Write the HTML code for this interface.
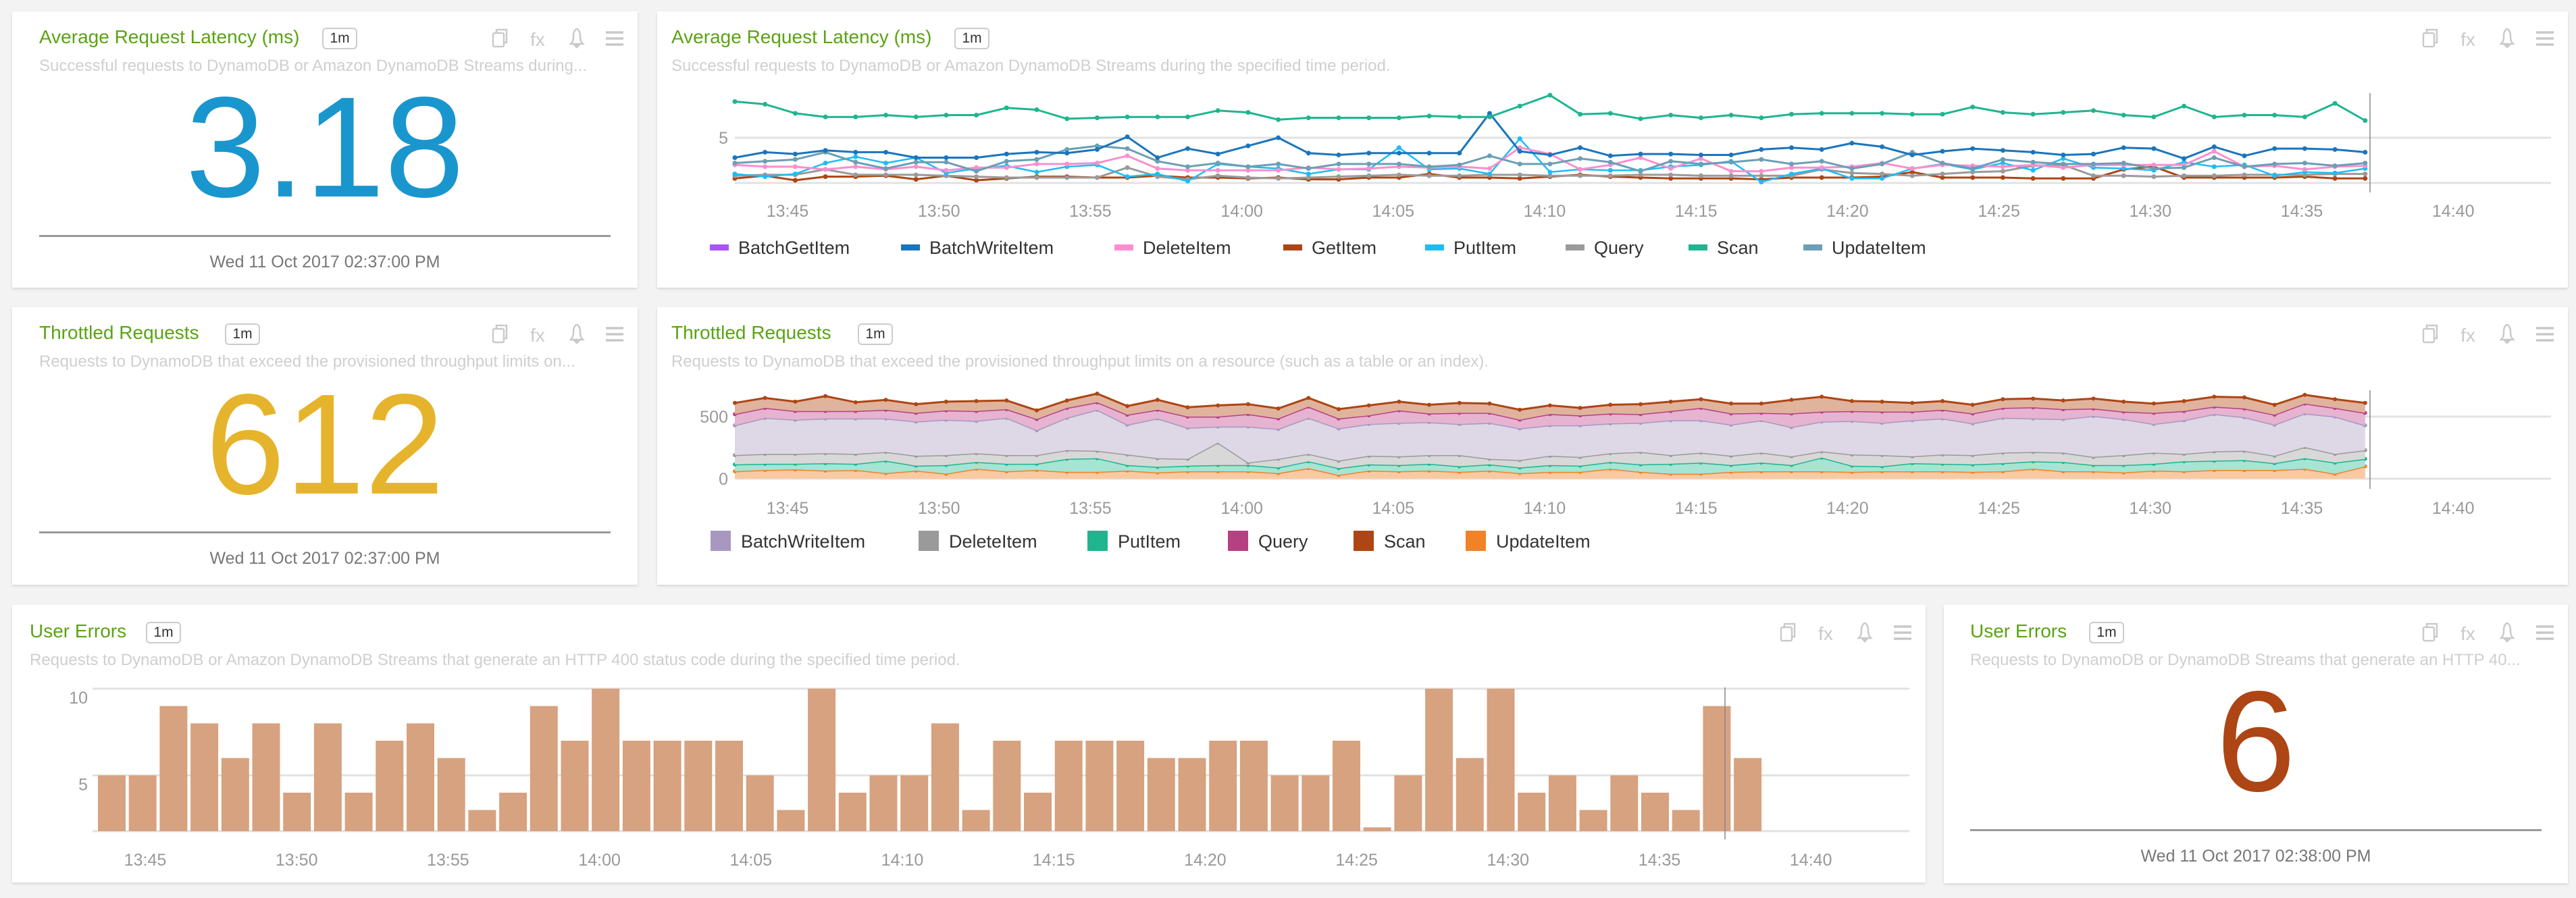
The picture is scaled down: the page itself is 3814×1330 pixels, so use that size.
<!DOCTYPE html>
<html><head><meta charset="utf-8">
<style>
body{margin:0;width:3814px;height:1330px;background:#f3f3f3;position:relative;overflow:hidden;font-family:"Liberation Sans",sans-serif;}
.panel{position:absolute;background:#fff;box-shadow:0 2px 4px rgba(0,0,0,0.12);}
.title{position:absolute;color:#5aa312;font-size:28px;white-space:nowrap;}
.badge{position:absolute;border:2px solid #ccc;border-radius:6px;font-size:21px;color:#333;width:48px;height:28px;line-height:28px;text-align:center;}
.sub{position:absolute;color:#cfcfcf;font-size:24px;white-space:nowrap;}
.ic{position:absolute;color:#c8c8c8;}
.big{position:absolute;font-size:212px;text-align:center;line-height:1;}
.hr{position:absolute;height:3px;background:#999;}
.date{position:absolute;font-size:25px;color:#777;text-align:center;}
svg text{font-family:"Liberation Sans",sans-serif;}
</style></head><body>

<div class="panel" style="left:18px;top:17px;width:926px;height:409px;"></div>
<div class="panel" style="left:973px;top:17px;width:2829px;height:409px;"></div>
<div class="panel" style="left:18px;top:455px;width:926px;height:411px;"></div>
<div class="panel" style="left:973px;top:455px;width:2829px;height:411px;"></div>
<div class="panel" style="left:18px;top:896px;width:2833px;height:411px;"></div>
<div class="panel" style="left:2878px;top:896px;width:924px;height:412px;"></div>

<div class="title" style="left:58px;top:39px;">Average Request Latency (ms)</div>
<div class="badge" style="left:477px;top:41px;">1m</div>
<div class="sub" style="left:58px;top:84px;">Successful requests to DynamoDB or Amazon DynamoDB Streams during...</div>
<div class="big" style="left:18px;width:926px;top:112px;color:#1a96ce;">3.18</div>
<div class="hr" style="left:58px;top:348px;width:846px;"></div>
<div class="date" style="left:18px;width:926px;top:374px;">Wed 11 Oct 2017 02:37:00 PM</div>

<div class="title" style="left:994px;top:39px;">Average Request Latency (ms)</div>
<div class="badge" style="left:1413px;top:41px;">1m</div>
<div class="sub" style="left:994px;top:84px;">Successful requests to DynamoDB or Amazon DynamoDB Streams during the specified time period.</div>

<div class="title" style="left:58px;top:477px;">Throttled Requests</div>
<div class="badge" style="left:333px;top:479px;">1m</div>
<div class="sub" style="left:58px;top:522px;">Requests to DynamoDB that exceed the provisioned throughput limits on...</div>
<div class="big" style="left:18px;width:926px;top:552px;color:#e6b42c;">612</div>
<div class="hr" style="left:58px;top:787px;width:846px;"></div>
<div class="date" style="left:18px;width:926px;top:813px;">Wed 11 Oct 2017 02:37:00 PM</div>

<div class="title" style="left:994px;top:477px;">Throttled Requests</div>
<div class="badge" style="left:1270px;top:479px;">1m</div>
<div class="sub" style="left:994px;top:522px;">Requests to DynamoDB that exceed the provisioned throughput limits on a resource (such as a table or an index).</div>

<div class="title" style="left:44px;top:919px;">User Errors</div>
<div class="badge" style="left:216px;top:921px;">1m</div>
<div class="sub" style="left:44px;top:964px;">Requests to DynamoDB or Amazon DynamoDB Streams that generate an HTTP 400 status code during the specified time period.</div>

<div class="title" style="left:2917px;top:919px;">User Errors</div>
<div class="badge" style="left:3093px;top:921px;">1m</div>
<div class="sub" style="left:2917px;top:964px;">Requests to DynamoDB or DynamoDB Streams that generate an HTTP 40...</div>
<div class="big" style="left:2878px;width:924px;top:992px;color:#ad4514;">6</div>
<div class="hr" style="left:2917px;top:1228px;width:846px;"></div>
<div class="date" style="left:2878px;width:924px;top:1254px;">Wed 11 Oct 2017 02:38:00 PM</div>

<svg id="chart" width="3814" height="1330" style="position:absolute;left:0;top:0;"></svg>

<script>
const timeTicks = ["13:45","13:50","13:55","14:00","14:05","14:10","14:15","14:20","14:25","14:30","14:35","14:40"];
const latencyNames = ["BatchGetItem","BatchWriteItem","DeleteItem","GetItem","PutItem","Query","Scan","UpdateItem"];
const latBatchGet = [];
const latBatchWrite = [2.8,3.4,3.2,3.6,3.4,3.4,2.8,2.8,2.8,3.2,3.4,3.3,3.7,5.1,2.8,3.8,3.2,4.1,5.0,3.3,3.1,3.3,3.3,3.3,3.3,7.7,3.5,3.1,3.9,3.0,3.2,3.2,3.1,3.1,3.7,3.9,3.7,4.4,4.0,3.1,3.5,3.8,3.6,3.4,3.1,3.2,3.9,3.8,2.7,4.0,3.0,3.8,3.8,3.7,3.4];
const latDelete = [2.0,1.8,1.8,1.5,1.8,1.5,1.8,1.4,1.7,1.7,2.1,2.1,2.2,3.0,1.6,1.4,1.4,1.4,1.4,1.7,1.5,1.6,1.8,1.7,1.8,1.6,3.9,3.2,1.5,2.0,2.8,1.6,2.7,1.3,1.3,1.7,1.7,1.8,2.2,1.6,2.0,1.9,1.8,2.0,1.7,2.0,2.0,2.0,2.0,3.5,1.8,1.9,1.5,1.8,1.9];
const latGet = [0.5,0.8,0.3,0.7,0.7,0.8,0.4,0.8,0.3,0.5,0.7,0.7,0.6,0.6,0.8,0.6,0.6,0.5,0.6,0.4,0.4,0.6,0.6,1.0,0.6,0.6,0.5,0.7,0.9,0.7,0.6,0.5,0.5,0.5,0.4,0.6,0.6,0.6,0.7,1.2,0.6,0.6,0.6,0.5,0.5,0.5,1.5,1.8,0.6,0.6,0.6,0.6,0.7,0.5,0.5];
const latPut = [1.0,0.7,1.0,2.2,2.9,2.2,2.8,1.1,1.6,1.9,1.2,1.8,2.0,0.7,1.0,0.2,2.1,1.8,1.6,1.0,1.5,1.5,3.9,1.5,1.6,1.0,4.9,1.2,1.5,1.4,1.4,1.8,2.0,2.4,0.1,1.0,1.6,0.5,0.5,1.6,2.1,1.5,2.2,1.4,2.7,1.7,1.6,1.4,2.3,1.8,2.0,0.8,1.2,1.1,1.6];
const latQuery = [0.8,0.9,0.9,1.5,0.9,0.9,0.9,0.8,0.7,0.6,0.6,0.6,0.6,1.7,0.7,0.4,0.8,0.6,0.5,0.6,0.7,0.8,0.9,0.8,0.8,0.9,0.9,0.8,0.8,0.8,0.9,0.9,0.8,0.8,0.8,0.8,1.5,1.1,1.0,0.8,1.0,1.2,1.3,1.9,2.0,0.8,0.8,0.7,0.8,0.8,0.9,0.9,0.9,1.0,1.0];
const latScan = [9.0,8.7,7.7,7.3,7.3,7.5,7.3,7.5,7.5,8.3,8.1,7.1,7.2,7.3,7.3,7.3,8.0,7.8,7.0,7.2,7.2,7.2,7.2,7.4,7.3,7.3,8.5,9.7,7.6,7.7,7.1,7.5,7.2,7.5,7.2,7.6,7.7,7.7,7.7,7.6,7.6,8.4,7.8,7.6,7.8,8.0,7.5,7.3,8.5,7.3,7.5,7.5,7.3,8.8,6.9];
const latUpdate = [2.2,2.4,2.6,3.4,2.3,1.6,2.3,2.3,1.3,2.4,2.6,3.7,4.1,3.8,2.4,1.8,2.2,1.8,2.1,1.6,2.1,2.1,2.1,1.8,2.0,3.0,2.1,2.1,2.7,2.3,1.3,2.4,2.1,2.3,2.6,2.1,2.4,1.6,2.1,3.4,2.2,1.6,2.6,2.3,2.1,2.1,2.2,1.6,1.7,2.8,1.8,2.1,2.2,1.9,2.2];
const latencyTicks = [5];

const thrNames = ["BatchWriteItem","DeleteItem","PutItem","Query","Scan","UpdateItem"];
const thrUpdate = [60,70,75,65,70,45,65,40,80,60,70,55,55,65,50,60,60,60,45,85,30,65,60,65,55,65,45,55,55,80,55,40,40,55,60,60,60,55,60,60,60,55,60,80,60,60,50,65,60,70,70,70,80,40,100];
const thrPut = [55,50,45,60,50,100,40,70,55,60,50,105,110,45,45,45,50,50,45,55,55,50,50,55,45,50,45,55,50,55,60,80,90,55,70,50,110,50,40,65,60,60,65,60,75,50,60,55,80,75,80,55,85,90,60];
const thrDelete = [75,80,80,80,80,70,80,80,70,70,70,70,60,85,70,55,180,20,70,60,60,70,70,70,90,45,60,75,70,70,100,70,80,75,80,70,50,90,90,55,75,75,85,75,75,65,80,90,60,75,75,60,90,70,70];
const thrBatchWrite = [240,290,275,280,285,270,275,285,260,300,200,260,330,240,320,250,130,290,240,290,260,255,270,265,250,290,255,245,255,240,235,280,260,250,260,235,240,270,260,290,290,255,280,270,270,330,290,230,270,300,270,250,270,300,200];
const thrQuery = [90,80,70,60,60,70,70,75,80,70,90,80,60,80,70,90,80,100,85,90,80,70,100,70,90,80,70,90,80,80,70,75,100,90,60,110,80,80,90,70,70,80,80,90,80,60,60,90,75,60,70,80,80,70,100];
const thrScan = [90,80,75,120,70,80,70,70,80,70,70,60,70,70,80,75,90,80,80,70,75,80,70,70,80,75,80,70,60,70,80,75,70,80,75,110,120,80,80,70,70,70,70,70,70,80,80,75,80,80,90,80,70,70,80];
const thrTicks = [0,500];

const errValues = [5,5,9,8,6,8,4,8,4,7,8,6,3,4,9,7,10,7,7,7,7,5,3,10,4,5,5,8,3,7,4,7,7,7,6,6,7,7,5,5,7,2,5,10,6,10,4,5,3,5,4,3,9,6];
const errTicks = [5,10];

const NS = "http://www.w3.org/2000/svg";
const svg = document.getElementById('chart');
function mk(tag, attrs, parent){
  const e = document.createElementNS(NS, tag);
  for (const k in attrs) e.setAttribute(k, attrs[k]);
  (parent||svg).appendChild(e);
  return e;
}

const lineX = i => 1088 + i*44.7;
const tickX = k => 1166 + k*224.2;
const latY = v => 271 - v*13.4;
const thrY = v => 709 - v*0.184;
const barX = i => 145 + i*45.7;
const errY = v => 1231 - (v-1.78)*25.67;
const errTickX = k => 215 + k*224.2;

const panelRights = [[944,57],[3802,57],[944,495],[3802,495],[2851,937],[3802,937]];
panelRights.forEach(([r,cy])=>{
  const g = mk('g',{fill:'none',stroke:'#cacaca','stroke-width':2.5});
  
  
  const c = mk('g',{},g);
  
  
  mk('rect',{x:r-214,y:cy-8,width:16,height:20,rx:2},c);
  mk('path',{d:`M${r-209} ${cy-8} v-5 h15 v19 h-4`},c);
  const fx = mk('text',{x:r-148,y:cy+11,'font-size':28,fill:'#cacaca',stroke:'none','text-anchor':'middle'},g);
  fx.textContent='fx';
  
  
  const b = mk('path',{d:`M${r-99} ${cy+8} h18 c-4 -4 -4 -8 -4 -12 c0 -6 -3 -10 -5 -10 c-2 0 -5 4 -5 10 c0 4 0 8 -4 12 z M${r-93} ${cy+10} h6 l-3 3 z`},g);
  
  
  const m = mk('g',{stroke:'#c8c8c8','stroke-width':3.5},g);
  
  
  [-9,0,9].forEach(d=>mk('line',{x1:r-47,x2:r-21,y1:cy+d,y2:cy+d},m));
});

const lat = mk('g',{});


[0].concat(latencyTicks).forEach(v=>{
  const gl = mk('line',{x1:1088,x2:3777,y1:latY(v),y2:latY(v),stroke:'#e2e2e2','stroke-width':3},lat);
  
  
});
latencyTicks.forEach(v=>{
  const t = mk('text',{x:1078,y:latY(v)+9,'font-size':25,fill:'#999','text-anchor':'end'},lat);
  t.textContent = v;
  
  
});
timeTicks.forEach((s,k)=>{
  const t = mk('text',{x:tickX(k),y:321,'font-size':25,fill:'#999','text-anchor':'middle'},lat);
  t.textContent = s;
  
  
});
const latSeries = [
  [latBatchGet,'#a855f7',3],[latGet,'#ad4514',3],[latQuery,'#9a9a9a',3],[latPut,'#1ebcf5',2.5],
  [latDelete,'#fb8fce',3],[latUpdate,'#6a9fb5',3],[latBatchWrite,'#1a75bc',3],[latScan,'#1fb58f',3]
];
const latSeriesNames = ['BatchGetItem','GetItem','Query','PutItem','DeleteItem','UpdateItem','BatchWriteItem','Scan'];
latSeries.forEach(([vals,col,w],si)=>{
  if(!vals.length) return;
  const g = mk('g',{},lat);
  
  
  const pts = vals.map((v,i)=>lineX(i).toFixed(1)+','+latY(v).toFixed(1)).join(' ');
  const pl = mk('polyline',{points:pts,fill:'none',stroke:col,'stroke-width':w,'stroke-linejoin':'round'},g);
  
  
  vals.forEach((v,i)=>{
    const c = mk('circle',{cx:lineX(i),cy:latY(v),r:3.5,fill:col},g);
    
    
  });
});
const cur1 = mk('line',{x1:3509,x2:3509,y1:138,y2:285,stroke:'#888','stroke-width':1.5},lat);


const latLegendCols = ['#a855f7','#1a75bc','#fb8fce','#ad4514','#1ebcf5','#9a9a9a','#1fb58f','#6a9fb5'];
const latLegendX = [1051,1334,1650,1900,2110,2318,2500,2670];
latencyNames.forEach((n,i)=>{
  const g = mk('g',{},lat);
  
  
  mk('rect',{x:latLegendX[i],y:362,width:28,height:9,fill:latLegendCols[i]},g);
  const t = mk('text',{x:latLegendX[i]+42,y:376,'font-size':27,fill:'#333'},g);
  t.textContent = n;
});

const thr = mk('g',{});


thrTicks.forEach(v=>{
  const gl = mk('line',{x1:1088,x2:3777,y1:thrY(v),y2:thrY(v),stroke:'#e2e2e2','stroke-width':3},thr);
  
  
  const t = mk('text',{x:1078,y:thrY(v)+9,'font-size':25,fill:'#999','text-anchor':'end'},thr);
  t.textContent = v;
  
  
});
timeTicks.forEach((s,k)=>{
  const t = mk('text',{x:tickX(k),y:761,'font-size':25,fill:'#999','text-anchor':'middle'},thr);
  t.textContent = s;
  
  
});
const stack = [
  ['UpdateItem',thrUpdate,'#f08228','#f9caa2'],
  ['PutItem',thrPut,'#1fb58f','#a6e4d4'],
  ['DeleteItem',thrDelete,'#9a9a9a','#d8d8d8'],
  ['BatchWriteItem',thrBatchWrite,'#a898c0','#ddd7e6'],
  ['Query',thrQuery,'#b54182','#e6b3d1'],
  ['Scan',thrScan,'#ad4514','#e0b39d']
];
let base = thrUpdate.map(()=>0);
stack.forEach(([n,vals,col,fill])=>{
  const top = vals.map((v,i)=>base[i]+v);
  const g = mk('g',{},thr);
  
  
  let d = top.map((v,i)=>(i?'L':'M')+lineX(i).toFixed(1)+' '+thrY(v).toFixed(1)).join(' ');
  for(let i=base.length-1;i>=0;i--) d += ' L'+lineX(i).toFixed(1)+' '+thrY(base[i]).toFixed(1);
  const a = mk('path',{d:d+' Z',fill:fill,stroke:'none'},g);
  
  
  const pl = mk('polyline',{points:top.map((v,i)=>lineX(i).toFixed(1)+','+thrY(v).toFixed(1)).join(' '),fill:'none',stroke:col,'stroke-width':3},g);
  
  
  top.forEach((v,i)=>{
    const c = mk('circle',{cx:lineX(i),cy:thrY(v),r:3,fill:col},g);
    
    
  });
  base = top;
});
const cur2 = mk('line',{x1:3509,x2:3509,y1:578,y2:724,stroke:'#888','stroke-width':1.5},thr);


const thrLegendCols = ['#a898c0','#9a9a9a','#1fb58f','#b54182','#ad4514','#f08228'];
const thrLegendX = [1052,1360,1610,1818,2004,2170];
thrNames.forEach((n,i)=>{
  const g = mk('g',{},thr);
  
  
  mk('rect',{x:thrLegendX[i],y:786,width:30,height:30,fill:thrLegendCols[i]},g);
  const t = mk('text',{x:thrLegendX[i]+45,y:811,'font-size':27,fill:'#333'},g);
  t.textContent = n;
});

const err = mk('g',{});


[1.78].concat(errTicks).forEach(v=>{
  const gl = mk('line',{x1:137,x2:2827,y1:errY(v),y2:errY(v),stroke:'#e2e2e2','stroke-width':3},err);
  
  
});
errTicks.forEach(v=>{
  const t = mk('text',{x:130,y:errY(v)+22,'font-size':25,fill:'#999','text-anchor':'end'},err);
  t.textContent = v;
  
  
});
errValues.forEach((v,i)=>{
  const r = mk('rect',{x:barX(i),y:errY(v),width:41,height:errY(1.78)-errY(v),fill:'#d7a27f'},err);
  
  
});
timeTicks.forEach((s,k)=>{
  const t = mk('text',{x:errTickX(k),y:1282,'font-size':25,fill:'#999','text-anchor':'middle'},err);
  t.textContent = s;
  
  
});
const cur3 = mk('line',{x1:2554,x2:2554,y1:1018,y2:1243,stroke:'#888','stroke-width':1.5},err);


</script>
</body></html>
